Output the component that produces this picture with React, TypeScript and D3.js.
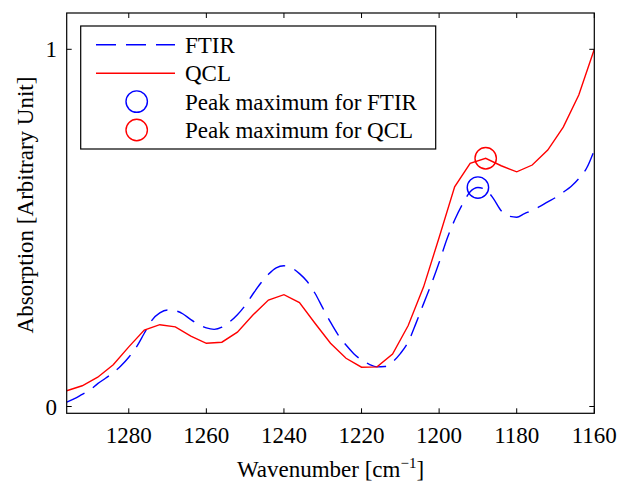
import React from "react";
import * as d3 from "d3";

// QCL spectrum (step 4 cm^-1)
const qclWavenumbers = [1296, 1292, 1288, 1284, 1280, 1276, 1272, 1268, 1264, 1260, 1256, 1252, 1248, 1244, 1240, 1236, 1232, 1228, 1224, 1220, 1216, 1212, 1208, 1204, 1200, 1196, 1192, 1188, 1184, 1180, 1176, 1172, 1168, 1164, 1160];
const qclValues = [0.044, 0.058, 0.082, 0.117, 0.167, 0.214, 0.229, 0.223, 0.197, 0.177, 0.180, 0.208, 0.256, 0.298, 0.313, 0.291, 0.233, 0.177, 0.135, 0.110, 0.111, 0.147, 0.226, 0.335, 0.473, 0.615, 0.681, 0.695, 0.674, 0.657, 0.676, 0.718, 0.782, 0.872, 1.0];

// FTIR spectrum (step 2 cm^-1)
const ftirWavenumbers = [1296, 1294, 1292, 1290, 1288, 1286, 1284, 1282, 1280, 1278, 1276, 1274, 1272, 1270, 1268, 1266, 1264, 1262, 1260, 1258, 1256, 1254, 1252, 1250, 1248, 1246, 1244, 1242, 1240, 1238, 1236, 1234, 1232, 1230, 1228, 1226, 1224, 1222, 1220, 1218, 1216, 1214, 1212, 1210, 1208, 1206, 1204, 1202, 1200, 1198, 1196, 1194, 1192, 1190, 1188, 1186, 1184, 1182, 1180, 1178, 1176, 1174, 1172, 1170, 1168, 1166, 1164, 1162, 1160];
const ftirValues = [0.012, 0.022, 0.034, 0.046, 0.064, 0.079, 0.095, 0.114, 0.138, 0.167, 0.205, 0.242, 0.262, 0.270, 0.268, 0.259, 0.243, 0.230, 0.220, 0.216, 0.222, 0.237, 0.257, 0.283, 0.315, 0.345, 0.370, 0.388, 0.394, 0.388, 0.372, 0.350, 0.317, 0.276, 0.236, 0.200, 0.172, 0.148, 0.130, 0.118, 0.111, 0.112, 0.125, 0.148, 0.180, 0.232, 0.288, 0.343, 0.403, 0.468, 0.522, 0.566, 0.601, 0.613, 0.607, 0.582, 0.548, 0.533, 0.530, 0.540, 0.549, 0.560, 0.573, 0.585, 0.600, 0.616, 0.638, 0.667, 0.718];

// Peak maxima
const peakFtir = { wn: 1190, value: 0.613 };
const peakQcl = { wn: 1188, value: 0.695 };

const xTicks = [1280, 1260, 1240, 1220, 1200, 1180, 1160];
const yTicks = [0, 1];
const legendLabels = ["FTIR", "QCL", "Peak maximum for FTIR", "Peak maximum for QCL"];

const W = 621;
const H = 484;
const left = 66.7;
const right = 594.3;
const top = 13;
const bottom = 413.3;
const FONT = "Liberation Serif, Tinos, DejaVu Serif, Times New Roman, serif";
const FS = 23;
const BLUE = "#0000ff";
const RED = "#ff0000";

export default function App() {
  const x = d3.scaleLinear().domain([1296, 1160]).range([left, right]);
  const y = d3.scaleLinear().domain([0, 1]).range([406.5, 49.3]);

  const qclLine = d3
    .line<number>()
    .x((_, i) => x(qclWavenumbers[i]))
    .y((d) => y(d));
  const ftirLine = d3
    .line<number>()
    .x((_, i) => x(ftirWavenumbers[i]))
    .y((d) => y(d))
    .curve(d3.curveMonotoneX);

  const tickLen = 5;
  const legX = 80.7;
  const legY = 26;
  const legW = 355;
  const legH = 123;
  const rowY = (i: number) => 44.8 + i * 28.4;
  const ts = { fontFamily: FONT, fontSize: FS } as React.CSSProperties;

  return (
    <svg
      width={W}
      height={H}
      style={{ position: "absolute", left: 0, top: 0, background: "#fff", fontFamily: FONT }}
    >
      <rect x={0} y={0} width={W} height={H} fill="#fff" />
      <defs>
        <clipPath id="plotClip">
          <rect x={left} y={top} width={right - left} height={bottom - top} />
        </clipPath>
      </defs>

      <g clipPath="url(#plotClip)">
        <path
          d={ftirLine(ftirValues) || ""}
          fill="none"
          stroke={BLUE}
          strokeWidth={1.4}
          strokeDasharray="20 10"
        />
        <path d={qclLine(qclValues) || ""} fill="none" stroke={RED} strokeWidth={1.4} />
        <circle cx={x(peakFtir.wn)} cy={y(peakFtir.value)} r={10.7} fill="none" stroke={BLUE} strokeWidth={1.4} />
        <circle cx={x(peakQcl.wn)} cy={y(peakQcl.value)} r={10.7} fill="none" stroke={RED} strokeWidth={1.4} />
      </g>

      {/* axes box */}
      <rect x={left} y={top} width={right - left} height={bottom - top} fill="none" stroke="#000" strokeWidth={1.2} />

      {/* x ticks */}
      {xTicks.map((t) => (
        <g key={"xt" + t}>
          <line x1={x(t)} x2={x(t)} y1={bottom} y2={bottom - tickLen} stroke="#000" strokeWidth={1} />
          <line x1={x(t)} x2={x(t)} y1={top} y2={top + tickLen} stroke="#000" strokeWidth={1} />
          <text x={x(t)} y={443.3} style={ts} textAnchor="middle" fill="#000">
            {t}
          </text>
        </g>
      ))}

      {/* y ticks */}
      {yTicks.map((t) => (
        <g key={"yt" + t}>
          <line x1={left} x2={left + tickLen} y1={y(t)} y2={y(t)} stroke="#000" strokeWidth={1} />
          <line x1={right} x2={right - tickLen} y1={y(t)} y2={y(t)} stroke="#000" strokeWidth={1} />
          <text x={57} y={y(t) + 8} style={ts} textAnchor="end" fill="#000">
            {t}
          </text>
        </g>
      ))}

      {/* axis labels */}
      <text x={(left + right) / 2} y={476.7} style={ts} textAnchor="middle" fill="#000">
        Wavenumber [cm
        <tspan dy={-9} style={{ fontSize: 15 }}>−1</tspan>
        <tspan dy={9}>]</tspan>
      </text>
      <text
        transform={`translate(33, 205) rotate(-90)`}
        style={ts}
        textAnchor="middle"
        fill="#000"
      >
        Absorption [Arbitrary Unit]
      </text>

      {/* legend */}
      <rect x={legX} y={legY} width={legW} height={legH} fill="#fff" stroke="#000" strokeWidth={1.2} />
      <line x1={96} x2={175} y1={rowY(0)} y2={rowY(0)} stroke={BLUE} strokeWidth={1.4} strokeDasharray="20 10" />
      <line x1={96} x2={175} y1={rowY(1)} y2={rowY(1)} stroke={RED} strokeWidth={1.4} />
      <circle cx={136.7} cy={rowY(2)} r={10.7} fill="none" stroke={BLUE} strokeWidth={1.4} />
      <circle cx={136.7} cy={rowY(3)} r={10.7} fill="none" stroke={RED} strokeWidth={1.4} />
      {legendLabels.map((l, i) => (
        <text key={l} x={185} y={rowY(i) + 8} style={ts} fill="#000">
          {l}
        </text>
      ))}
    </svg>
  );
}
